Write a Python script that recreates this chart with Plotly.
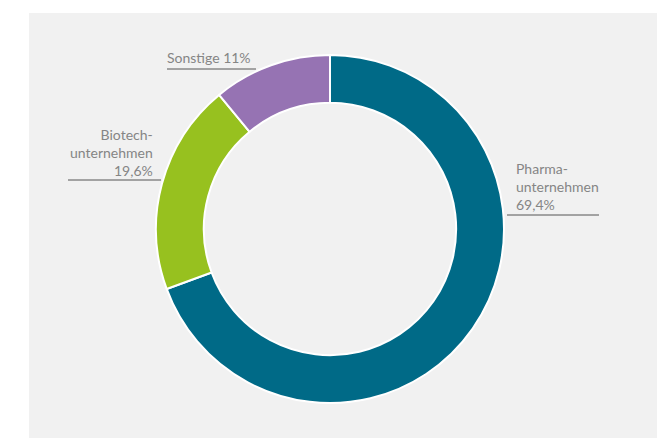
import plotly.graph_objects as go

# the page puts the figure 8px in from the top left corner
OFF = 8
W, H = 666 - OFF, 438 - OFF

# data
labels = ["Pharma-<br>unternehmen", "Biotech-<br>unternehmen", "Sonstige"]
values = [69.4, 19.6, 11]
colors = ["#006A87", "#97C11F", "#9673B3"]


def fmt(v):
    return f"{v:g}".replace(".", ",") + "%"


def px(x):
    return (x - OFF) / W


def py(y):
    return 1 - (y - OFF) / H


fig = go.Figure()

fig.add_trace(go.Pie(
    labels=labels,
    values=values,
    sort=False,
    direction="clockwise",
    rotation=0,
    hole=0.725,
    marker=dict(colors=colors, line=dict(color="white", width=2)),
    textinfo="none",
    hoverinfo="skip",
    showlegend=False,
    domain=dict(x=[px(156), px(504)], y=[py(403), py(55)]),
))

font = dict(family="Lato, sans-serif", size=14, color="#858585")

# label texts from the data
texts = [
    labels[0] + "<br>" + fmt(values[0]),
    labels[1] + "<br>" + fmt(values[1]),
    labels[2] + " " + fmt(values[2]),
]

annotations = [
    dict(text=texts[0], x=px(514), y=py(186), xanchor="left", yanchor="middle", align="left"),
    dict(text=texts[1], x=px(155), y=py(152), xanchor="right", yanchor="middle", align="right"),
    dict(text=texts[2], x=px(165), y=py(58), xanchor="left", yanchor="middle", align="left"),
]
for a in annotations:
    a.update(xref="paper", yref="paper", showarrow=False, font=font)

shapes = [
    # grey panel
    dict(type="rect", xref="paper", yref="paper", x0=px(29), x1=px(657), y0=py(438), y1=py(13),
         fillcolor="#F1F1F1", line=dict(width=0), layer="below"),
    # underlines
    dict(type="line", xref="paper", yref="paper", x0=px(507), x1=px(599), y0=py(215), y1=py(215),
         line=dict(color="#555555", width=1)),
    dict(type="line", xref="paper", yref="paper", x0=px(68), x1=px(161), y0=py(180), y1=py(180),
         line=dict(color="#555555", width=1)),
    dict(type="line", xref="paper", yref="paper", x0=px(167), x1=px(256), y0=py(69), y1=py(69),
         line=dict(color="#555555", width=1)),
]

fig.update_layout(
    width=W,
    height=H,
    margin=dict(l=0, r=0, t=0, b=0),
    paper_bgcolor="white",
    plot_bgcolor="white",
    annotations=annotations,
    shapes=shapes,
)

fig.write_html("out.html")
